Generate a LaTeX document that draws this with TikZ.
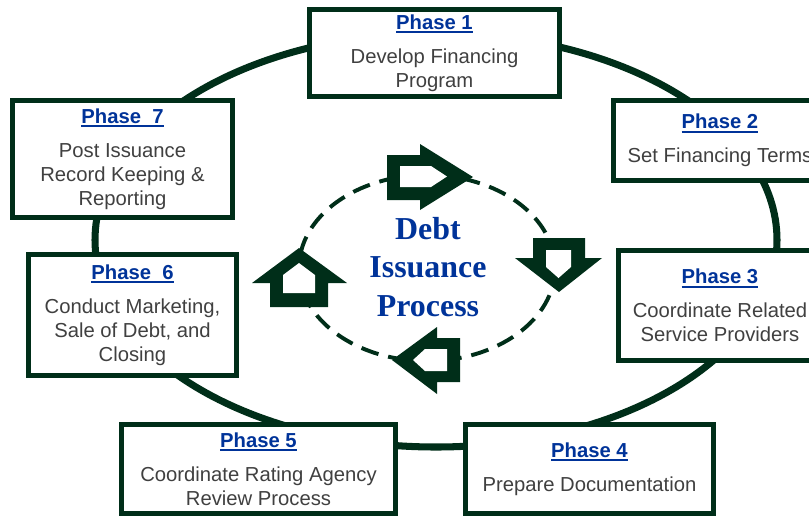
\documentclass[tikz,border=0pt]{standalone}
\usepackage{fontspec}
\setmainfont{Liberation Sans}
\newfontfamily\CoreFont{Liberation Serif}
\definecolor{LineClr}{rgb}{0,0.18,0.1}
\definecolor{TitleClr}{rgb}{0,0.2,0.6}
\definecolor{TextClr}{rgb}{0.25,0.25,0.25}

\newcommand{\PhaseTitle}[1]{\textcolor{TitleClr}{\setbox0\hbox{\bfseries #1}\rlap{\rule[-2.6pt]{\wd0}{1.3pt}}\box0}}

\tikzset{
  PhaseBox/.style={draw=LineClr,line width=3.5pt,fill=white,align=center,
    text=TextClr,inner sep=0pt,font=\fontsize{14.4}{17}\selectfont},
  ArrowShape/.style={fill=LineClr},
  ArrowHole/.style={fill=white}
}

\begin{document}
\begin{tikzpicture}[x=0.025cm,y=-0.025cm]
\useasboundingbox (0,0) rectangle (809,516);

\draw[LineClr,line width=5pt] (436,240) ellipse [x radius=341,y radius=207];

\draw[LineClr,line width=2.8pt,dash pattern=on 12.8pt off 7.1pt] (427,268) ellipse [x radius=128,y radius=93];

\node[PhaseBox,minimum width=6.25cm,minimum height=2.175cm] (P1) at (434.5,53)
  {\PhaseTitle{Phase 1}\\[7pt]Develop Financing\\Program};
\node[PhaseBox,minimum width=5.325cm,minimum height=2cm] (P2) at (720,140.5)
  {\PhaseTitle{Phase 2}\\[7pt]Set Financing Terms};
\node[PhaseBox,minimum width=5.075cm,minimum height=2.75cm] (P3) at (720,305.5)
  {\PhaseTitle{Phase 3}\\[7pt]Coordinate Related\\Service Providers};
\node[PhaseBox,minimum width=6.2cm,minimum height=2.225cm] (P4) at (589.5,469)
  {\PhaseTitle{Phase 4}\\[7pt]Prepare Documentation};
\node[PhaseBox,minimum width=6.85cm,minimum height=2.225cm] (P5) at (258.5,469)
  {\PhaseTitle{Phase 5}\\[7pt]Coordinate Rating Agency\\Review Process};
\node[PhaseBox,minimum width=5.2cm,minimum height=3.025cm] (P6) at (132.5,315)
  {\PhaseTitle{Phase\ \ 6}\\[7pt]Conduct Marketing,\\Sale of Debt, and\\Closing};
\node[PhaseBox,minimum width=5.5cm,minimum height=2.925cm] (P7) at (122.5,159)
  {\PhaseTitle{Phase\ \ 7}\\[7pt]Post Issuance\\Record Keeping \&\\Reporting};

% block arrows round the centre
\fill[ArrowShape] (387,155) -- (420,155) -- (420,144) -- (473,177) -- (420,210) -- (420,200) -- (387,200) -- cycle;
\fill[ArrowHole] (400,166) -- (431,166) -- (447,176.5) -- (431,187) -- (400,187) -- cycle;

\fill[ArrowShape] (533,238) -- (585,238) -- (585,258) -- (602,258) -- (559,292) -- (515,258) -- (533,258) -- cycle;
\fill[ArrowHole] (546,250) -- (571,250) -- (571,267) -- (558.5,278) -- (546,267) -- cycle;

\fill[ArrowShape] (460,338) -- (460,382) -- (437,382) -- (437,394) -- (392,360) -- (437,327) -- (437,338) -- cycle;
\fill[ArrowHole] (447,349) -- (447,371) -- (425,371) -- (413,360) -- (425,349) -- cycle;

\fill[ArrowShape] (270,307) -- (328,307) -- (328,283) -- (347,283) -- (299,248) -- (252,283) -- (270,283) -- cycle;
\fill[ArrowHole] (283,293) -- (315,293) -- (315,275) -- (299,263) -- (283,275) -- cycle;

\node[text=TitleClr,align=center,font=\CoreFont\bfseries\fontsize{22.7}{27.4}\selectfont] (Core) at (428,267)
  {Debt\\Issuance\\Process};

\end{tikzpicture}
\end{document}
